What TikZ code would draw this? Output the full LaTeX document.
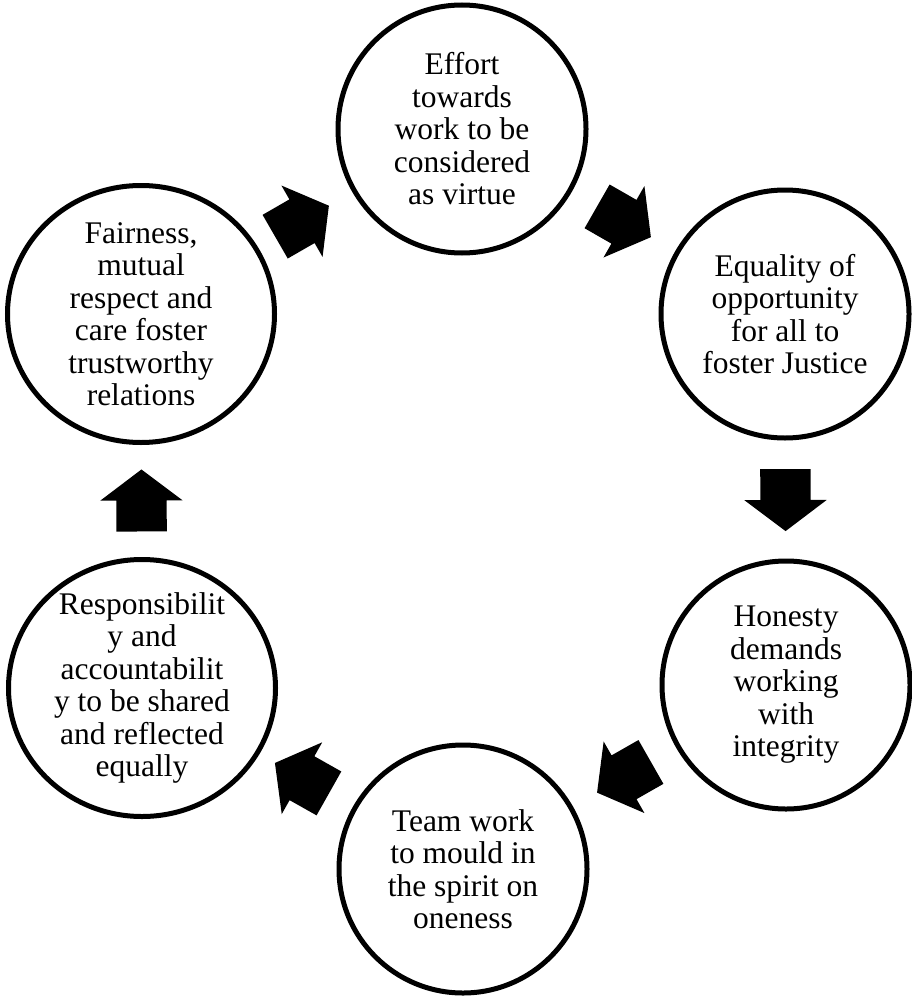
\documentclass[tikz,border=0pt]{standalone}
\usepackage{fontspec}
\setmainfont{Liberation Serif}
\usetikzlibrary{shapes.geometric,shapes.arrows}
\tikzset{
  ring/.style={circle, draw=black, line width=5pt, minimum size=248pt, inner sep=0pt},
  oval/.style={ellipse, draw=black, line width=5pt, minimum width=267pt, minimum height=257pt, inner sep=0pt},
  txt/.style={font=\fontsize{31.5}{32.5}\selectfont, align=center, inner sep=0pt},
  blockarrow/.style={single arrow, draw=none, fill=black, sloped, allow upside down, pos=0.476,
    minimum height=62pt, minimum width=0pt, inner xsep=0pt, inner ysep=25pt,
    single arrow head extend=16pt, single arrow tip angle=106}
}
\begin{document}
\begin{tikzpicture}[x=1pt,y=-1pt]
\useasboundingbox (0,0) rectangle (911,998);
\node[ring, label={[txt]center:Effort\\towards\\work to be\\considered\\as virtue}] (eff) at (462,129) {};
\node[ring, label={[txt]center:Equality of\\opportunity\\for all to\\foster Justice}] (equ) at (785,314) {};
\node[ring, label={[txt]center:Honesty\\demands\\working\\with\\integrity}] (hon) at (786,685) {};
\node[ring, label={[txt]center:Team work\\to mould in\\the spirit on\\oneness}] (team) at (463,869) {};
\node[oval, label={[txt]center:Responsibilit\\y and\\accountabilit\\y to be shared\\and reflected\\equally}] (resp) at (142,688) {};
\node[oval, label={[txt]center:Fairness,\\mutual\\respect and\\care foster\\trustworthy\\relations}] (fair) at (141,314) {};
\path (fair.center) -- node[blockarrow] (a1) {} (eff.center);
\path (eff.center) -- node[blockarrow] (a2) {} (equ.center);
\path (equ.center) -- node[blockarrow] (a3) {} (hon.center);
\path (hon.center) -- node[blockarrow] (a4) {} (team.center);
\path (team.center) -- node[blockarrow] (a5) {} (resp.center);
\path (resp.center) -- node[blockarrow] (a6) {} (fair.center);
\end{tikzpicture}
\end{document}
